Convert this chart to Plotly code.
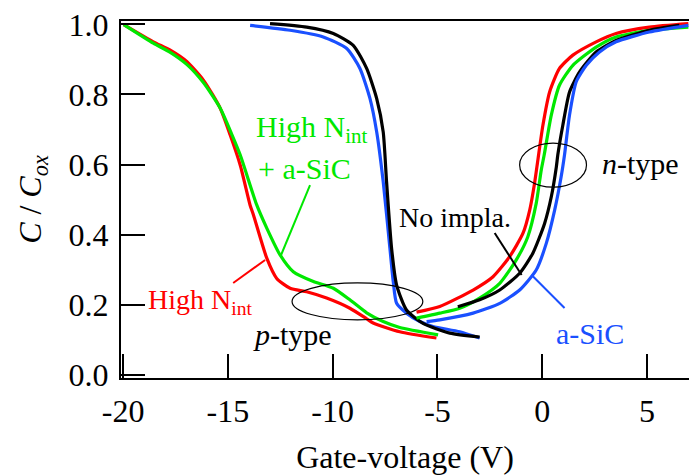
import plotly.graph_objects as go

# ---- data ----
red_p_x = [-19.97, -18.56, -17.75, -16.95, -16.16, -15.37, -14.89, -14.41, -13.94, -13.78, -13.14, -12.67, -12.03, -11.24, -10.29, -9.18, -8.38, -8.07, -6.80, -5.05]
red_p_y = [0.999, 0.950, 0.926, 0.893, 0.840, 0.761, 0.684, 0.598, 0.484, 0.456, 0.332, 0.275, 0.247, 0.237, 0.219, 0.190, 0.160, 0.148, 0.123, 0.105]
green_p_x = [-19.97, -18.56, -17.75, -16.95, -16.16, -15.37, -14.80, -14.41, -13.62, -13.14, -12.51, -11.88, -10.92, -9.97, -9.18, -8.38, -7.59, -6.80, -4.97]
green_p_y = [0.999, 0.946, 0.920, 0.885, 0.833, 0.761, 0.684, 0.627, 0.484, 0.418, 0.342, 0.294, 0.266, 0.247, 0.214, 0.177, 0.152, 0.135, 0.114]
blue_p_x = [-13.94, -12.03, -10.45, -9.33, -8.70, -8.22, -7.90, -7.59, -7.27, -7.11, -6.95, -6.48, -5.84, -5.21, -3.94, -2.99]
blue_p_y = [0.997, 0.983, 0.964, 0.931, 0.874, 0.788, 0.693, 0.551, 0.361, 0.266, 0.204, 0.176, 0.152, 0.138, 0.123, 0.105]
black_p_x = [-12.99, -11.24, -9.97, -9.02, -8.38, -7.90, -7.59, -7.43, -7.19, -6.95, -6.48, -5.69, -4.41, -2.99]
black_p_y = [1.002, 0.992, 0.974, 0.940, 0.874, 0.788, 0.693, 0.551, 0.361, 0.256, 0.185, 0.147, 0.119, 0.108]

red_n_x = [-6.00, -4.89, -3.30, -2.35, -1.56, -0.92, -0.60, -0.37, -0.21, 0.03, 0.35, 0.82, 1.46, 2.57, 3.52, 5.11, 6.97]
red_n_y = [0.179, 0.195, 0.242, 0.280, 0.337, 0.404, 0.470, 0.546, 0.613, 0.712, 0.807, 0.874, 0.912, 0.950, 0.974, 0.992, 1.002]
green_n_x = [-6.00, -4.89, -3.94, -2.99, -2.03, -1.24, -0.69, -0.29, -0.05, 0.09, 0.43, 0.82, 1.46, 2.57, 3.52, 5.11, 6.97]
green_n_y = [0.162, 0.176, 0.190, 0.219, 0.261, 0.328, 0.394, 0.489, 0.584, 0.627, 0.741, 0.826, 0.883, 0.935, 0.964, 0.983, 0.992]
black_n_x = [-4.03, -2.99, -2.03, -1.08, -0.45, 0.11, 0.43, 0.67, 0.74, 0.98, 1.30, 1.78, 2.57, 3.52, 5.11, 6.54]
black_n_y = [0.194, 0.214, 0.242, 0.290, 0.347, 0.432, 0.508, 0.593, 0.627, 0.712, 0.807, 0.864, 0.921, 0.954, 0.983, 0.997]
blue_n_x = [-5.52, -4.89, -3.30, -2.03, -1.08, -0.29, 0.19, 0.59, 0.90, 1.06, 1.30, 1.62, 2.10, 2.73, 3.52, 5.11, 6.97]
blue_n_y = [0.152, 0.157, 0.176, 0.204, 0.242, 0.299, 0.375, 0.470, 0.565, 0.627, 0.741, 0.836, 0.883, 0.921, 0.950, 0.978, 0.997]

x_ticks = [-20, -15, -10, -5, 0, 5]
y_ticks = [0.0, 0.2, 0.4, 0.6, 0.8, 1.0]

RED = "#ff0000"
GREEN = "#00e800"
BLUE = "#1a50ff"
BLACK = "#000000"
FONT = "Liberation Serif, Times New Roman, DejaVu Serif, serif"

fig = go.Figure()
series = [
    (red_p_x, red_p_y, RED), (green_p_x, green_p_y, GREEN),
    (blue_p_x, blue_p_y, BLUE), (black_p_x, black_p_y, BLACK),
    (red_n_x, red_n_y, RED), (green_n_x, green_n_y, GREEN),
    (black_n_x, black_n_y, BLACK), (blue_n_x, blue_n_y, BLUE),
]
for xs, ys, c in series:
    fig.add_trace(go.Scatter(x=xs, y=ys, mode="lines",
                             line=dict(color=c, width=3.2, shape="spline", smoothing=0.6),
                             showlegend=False, hoverinfo="skip"))

def P(px, py):
    return (px - 542.7) / 21.0, (375.0 - py) / 351.0

def ann(px, py, text, color, size=30):
    x, y = P(px, py)
    fig.add_annotation(x=x, y=y, text=text, showarrow=False, xanchor="center", yanchor="middle",
                       font=dict(family=FONT, size=size, color=color))

ann(312, 129, "High N<sub>int</sub>", GREEN)
ann(304, 168, "+ a-SiC", GREEN)
ann(200, 302, "High N<sub>int</sub>", RED, 28)
ann(292, 335, "<i>p</i>-type", BLACK)
ann(455, 217, "No impla.", BLACK, 28)
ann(641, 163, "<i>n</i>-type", BLACK)
ann(591, 334, "a-SiC", BLUE)

def seg(p1, p2, color, w=2):
    x0, y0 = P(*p1)
    x1, y1 = P(*p2)
    fig.add_shape(type="line", x0=x0, y0=y0, x1=x1, y1=y1, line=dict(color=color, width=w))

seg((310, 185), (281, 255), GREEN)
seg((233, 283), (265, 260), RED)
seg((495, 233), (522, 275), BLACK)
seg((532, 275), (565, 308), BLUE)

def ell(px0, py0, px1, py1):
    x0, y0 = P(px0, py1)
    x1, y1 = P(px1, py0)
    fig.add_shape(type="circle", x0=x0, y0=y0, x1=x1, y1=y1, line=dict(color=BLACK, width=1.2))

ell(520, 143, 587, 187)
ell(292, 283, 423, 320)

fig.update_layout(
    width=689, height=475,
    margin=dict(l=121, r=0, t=21, b=97),
    paper_bgcolor="white", plot_bgcolor="white",
    font=dict(family=FONT, size=32, color="black"),
)
fig.update_xaxes(
    range=[-20.1, 7.0], tickvals=x_ticks, ticktext=[str(v) for v in x_ticks],
    ticks="inside", ticklen=24, tickwidth=1.6, tickcolor="black",
    showline=True, linecolor="black", linewidth=2, mirror=True,
    showgrid=False, zeroline=False, automargin=False, ticklabelstandoff=4,
    title=dict(text="Gate-voltage (V)", font=dict(family=FONT, size=32), standoff=21),
    tickfont=dict(family=FONT, size=32),
)
fig.update_yaxes(
    range=[-0.009, 1.0094], tickvals=y_ticks, ticktext=["%.1f" % v for v in y_ticks],
    ticks="inside", ticklen=24, tickwidth=1.6, tickcolor="black",
    showline=True, linecolor="black", linewidth=2, mirror=False,
    showgrid=False, zeroline=False, automargin=False, ticklabelstandoff=4,
    title=dict(text="<i>C</i> / <i>C</i><sub><i>ox</i></sub>", font=dict(family=FONT, size=32), standoff=17),
    tickfont=dict(family=FONT, size=32),
)

fig.write_html("out.html", config={"displayModeBar": False},
               post_script="document.body.style.margin='0';")
